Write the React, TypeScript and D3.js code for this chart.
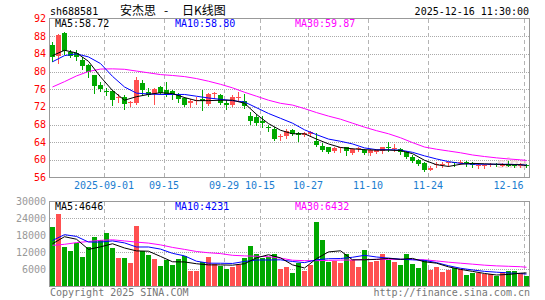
import * as d3 from 'd3';
import { useRef, useEffect } from 'react';

// trading days, 2025-08-19 .. 2025-12-16
const dates = [
  '08-19', '08-20', '08-21', '08-22', '08-25', '08-26', '08-27', '08-28', '08-29',
  '09-01', '09-02', '09-03', '09-04', '09-05', '09-08', '09-09', '09-10', '09-11', '09-12',
  '09-15', '09-16', '09-17', '09-18', '09-19', '09-22', '09-23', '09-24', '09-25', '09-26',
  '09-29', '09-30', '10-09', '10-10', '10-13', '10-14', '10-15', '10-16', '10-17', '10-20',
  '10-21', '10-22', '10-23', '10-24', '10-27', '10-28', '10-29', '10-30', '10-31', '11-03',
  '11-04', '11-05', '11-06', '11-07', '11-10', '11-11', '11-12', '11-13', '11-14', '11-17',
  '11-18', '11-19', '11-20', '11-21', '11-24', '11-25', '11-26', '11-27', '11-28', '12-01',
  '12-02', '12-03', '12-04', '12-05', '12-08', '12-09', '12-10', '12-11', '12-12', '12-15',
  '12-16',
];

const open = [
  85.9, 83.6, 88.75, 84.4, 84.1, 82.5, 81.4, 79.1, 77.0, 75.6,
  75.5, 74.1, 74.2, 72.8, 72.9, 77.4, 75.3, 74.8, 76.4, 75.7,
  75.5, 74.7, 74.0, 72.8, 73.3, 73.8, 72.7, 75.0, 74.6, 72.9,
  72.5, 74.0, 73.4, 69.9, 69.7, 68.9, 67.5, 67.0, 65.3, 65.5,
  66.8, 66.0, 65.6, 65.8, 64.2, 63.2, 62.8, 62.0, 62.6, 62.9,
  61.5, 62.4, 62.3, 61.5, 61.7, 62.0, 63.0, 62.4, 62.5, 61.7,
  60.6, 60.0, 59.2, 57.8, 58.8, 58.9, 59.2, 59.4, 59.4, 59.5,
  59.2, 58.7, 58.7, 58.8, 59.0, 58.7, 59.1, 58.9, 58.6, 58.9,
];
const high = [
  86.6, 88.5, 89.05, 84.9, 84.8, 83.2, 81.7, 79.3, 77.6, 76.2,
  75.9, 74.9, 74.7, 73.4, 78.7, 78.0, 76.2, 76.3, 76.8, 77.6,
  75.7, 75.1, 74.2, 73.8, 74.2, 75.7, 75.1, 75.4, 75.0, 73.6,
  74.6, 75.3, 74.9, 70.8, 70.3, 70.0, 68.0, 67.4, 65.9, 66.9,
  67.0, 66.2, 66.3, 66.5, 66.1, 63.9, 63.0, 62.9, 63.0, 63.0,
  62.7, 63.0, 62.5, 62.5, 62.4, 63.0, 64.0, 63.6, 62.6, 61.9,
  61.0, 60.2, 59.4, 58.5, 59.5, 59.5, 59.6, 59.6, 59.9, 59.7,
  59.4, 59.2, 59.1, 59.3, 59.2, 59.2, 59.8, 59.1, 59.3, 59.1,
];
const low = [
  82.3, 81.9, 84.0, 83.2, 82.5, 80.6, 78.7, 75.2, 75.5, 74.6,
  72.5, 73.1, 71.5, 72.3, 72.7, 74.6, 74.4, 72.7, 74.9, 74.4,
  73.8, 73.1, 72.3, 71.9, 72.7, 71.2, 72.5, 74.0, 72.7, 71.6,
  72.3, 73.4, 71.8, 68.2, 67.8, 67.4, 66.6, 64.5, 64.5, 65.0,
  65.7, 64.2, 65.4, 65.5, 63.2, 61.9, 61.5, 61.7, 61.7, 61.2,
  61.4, 62.1, 61.4, 61.2, 61.5, 61.5, 62.1, 62.1, 61.4, 60.4,
  59.5, 58.9, 57.4, 57.6, 58.3, 58.3, 58.7, 58.5, 59.1, 58.7,
  58.3, 58.2, 58.1, 58.7, 58.6, 58.6, 58.5, 58.4, 58.4, 58.3,
];
const close = [
  83.2, 88.3, 84.75, 83.6, 83.2, 81.2, 79.9, 76.8, 76.1, 75.3,
  73.6, 74.3, 72.7, 73.2, 78.0, 75.7, 74.6, 76.1, 75.2, 74.6,
  74.9, 73.7, 72.5, 73.3, 73.6, 73.4, 74.9, 75.1, 72.8, 72.5,
  74.2, 74.3, 72.1, 68.9, 68.3, 68.3, 67.2, 64.8, 65.5, 66.6,
  65.9, 65.7, 66.0, 66.2, 63.4, 62.3, 61.8, 62.6, 62.9, 62.0,
  62.5, 62.6, 61.6, 62.3, 62.3, 62.9, 62.8, 62.6, 61.7, 60.7,
  59.7, 59.1, 57.6, 58.2, 59.0, 59.1, 59.4, 59.2, 59.6, 59.3,
  58.8, 58.9, 58.9, 59.0, 58.8, 58.9, 58.7, 58.6, 58.8, 58.6,
];
const volume = [
  20770, 25730, 13850, 12460, 15230, 10390, 13850, 17310, 16160, 18700,
  13500, 10040, 10040, 8310, 21460, 12350, 10850, 9690, 7270, 9120,
  7620, 9690, 10620, 5190, 5190, 8660, 10390, 7730, 7270, 6000,
  6580, 7500, 10040, 14190, 11310, 9810, 10160, 11190, 6000, 6580,
  4620, 8310, 5190, 7500, 22850, 16270, 8660, 8890, 8310, 11310,
  9230, 6690, 12810, 8660, 9000, 11310, 9230, 8660, 7620, 11310,
  7960, 6230, 9230, 5650, 6920, 4850, 5650, 6230, 5890, 3810,
  4500, 4620, 4390, 4270, 3460, 4800, 5500, 5200, 4730, 3460,
];

// moving averages at every second day (+ last day)
const ma5 = [
  83.6, 84.8, 84.2, 82.3, 78.8, 75.7, 73.5, 74.3, 74.8, 75.2, 75.0, 74.1, 73.4, 73.4,
  73.5, 73.5, 72.8, 70.3, 68.2, 66.7, 65.9, 65.9, 64.7, 63.6, 62.8, 62.5, 62.3, 62.2,
  62.2, 62.1, 61.4, 59.9, 58.9, 58.5, 59.0, 59.2, 59.1, 59.0, 58.9, 58.9, 58.72,
];
const ma10 = [
  82.2, 83.6, 84.0, 83.3, 81.8, 78.9, 76.5, 75.1, 74.9, 74.8, 74.8, 74.8, 74.4, 74.0,
  73.7, 73.4, 73.1, 71.8, 70.5, 69.4, 68.3, 66.8, 65.7, 64.7, 64.2, 63.6, 62.7, 62.3,
  62.3, 62.2, 61.7, 60.9, 60.2, 59.6, 59.2, 59.0, 59.0, 59.0, 59.0, 58.9, 58.8,
];
const ma30 = [
  76.5, 77.7, 79.0, 80.0, 80.55, 80.6, 80.5, 80.1, 79.7, 79.3, 79.1, 78.85, 78.4, 77.8,
  77.1, 76.3, 75.3, 74.4, 73.5, 72.8, 72.4, 71.6, 70.7, 69.9, 69.2, 68.3, 67.4, 66.6,
  65.9, 65.0, 63.9, 62.9, 62.4, 62.0, 61.6, 61.1, 60.75, 60.45, 60.2, 60.0, 59.87,
];
const volMa5 = [
  15000, 17500, 16600, 13000, 13900, 15000, 13500, 12460, 12350, 10500, 8600, 8540, 7900, 7500,
  7500, 7400, 7900, 10000, 11100, 10000, 7500, 6400, 9700, 12100, 12500, 9300, 9300, 9460,
  9800, 9460, 9800, 8600, 8100, 6800, 5900, 5190, 4450, 3900, 4100, 4550, 4646,
];
const volMa10 = [
  16160, 18230, 17600, 15600, 15600, 16000, 15300, 13850, 13850, 13100, 11600, 10700, 8800, 8100,
  8080, 8000, 8700, 9230, 9230, 9300, 8700, 8300, 9300, 9690, 9750, 10200, 10900, 10300,
  9900, 9500, 9300, 9100, 8300, 7200, 6300, 5700, 5200, 4900, 4650, 4400, 4231,
];
const volMa30 = [
  14430, 14800, 15400, 15800, 16200, 16400, 16000, 15580, 15230, 14600, 13700, 13000, 12250, 11800,
  11500, 10900, 10700, 10550, 10400, 9900, 9150, 9000, 9000, 9100, 9200, 9230, 9400, 9460,
  9460, 9460, 9400, 9300, 8900, 8450, 8100, 7750, 7400, 7150, 7000, 6850, 6650,
];

const priceTicks = [92, 88, 84, 80, 76, 72, 68, 64, 60, 56];
const volTicks = [30000, 24000, 18000, 12000, 6000];
const xTicks = [
  { date: '09-01', label: '2025-09-01' },
  { date: '09-15', label: '09-15' },
  { date: '09-29', label: '09-29' },
  { date: '10-15', label: '10-15' },
  { date: '10-27', label: '10-27' },
  { date: '11-10', label: '11-10' },
  { date: '11-24', label: '11-24' },
  { date: '12-16', label: '12-16' },
];
const priceLegend = ['MA5:58.72', 'MA10:58.80', 'MA30:59.87'];
const volLegend = ['MA5:4646', 'MA10:4231', 'MA30:6432'];

const MONO = "'DejaVu Sans Mono', monospace";
const RED = '#ff5050';
const GREEN = '#00a800';
const MA_COLORS = ['#000000', '#0000ff', '#ff00ff'];

const App = () => {
  const svgRef = useRef<SVGSVGElement | null>(null);

  useEffect(() => {
    const svg = d3.select(svgRef.current);
    svg.selectAll('*').remove();

    const x = d3.scaleBand<string>().domain(dates).range([50, 530]);
    const yP = d3.scaleLinear().domain([56, 92]).range([177.5, 18.5]);
    const yV = d3.scaleLinear().domain([0, 30000]).range([286, 201.5]);
    const maIdx = d3.range(0, 80, 2).concat([79]);
    const cx = (i: number) => x(dates[i])! + 2.5;

    svg.append('rect').attr('width', 545).attr('height', 300).attr('fill', '#fff');

    // horizontal dotted grid
    const hg = svg.append('g').attr('stroke', '#aaa').attr('stroke-dasharray', '1,1');
    priceTicks.slice(1, -1).forEach(t => {
      const y = Math.round(yP(t)) + 0.5;
      hg.append('line').attr('x1', 50).attr('x2', 529).attr('y1', y).attr('y2', y);
    });
    volTicks.slice(1).forEach(t => {
      const y = Math.round(yV(t)) + 0.5;
      hg.append('line').attr('x1', 50).attr('x2', 529).attr('y1', y).attr('y2', y);
    });

    // vertical dashed grid
    const vg = svg.append('g').attr('stroke', '#b4b4b4').attr('stroke-dasharray', '4,3');
    xTicks.forEach(t => {
      const xx = x(t.date)! + 0.5;
      vg.append('line').attr('x1', xx).attr('x2', xx).attr('y1', 19).attr('y2', 177);
      vg.append('line').attr('x1', xx).attr('x2', xx).attr('y1', 202).attr('y2', 286);
    });

    // sina watermark
    svg.append('text').attr('x', 497).attr('y', 168)
      .attr('font-family', 'Liberation Sans, sans-serif').attr('font-size', 15)
      .attr('font-style', 'italic').attr('font-weight', 'bold')
      .attr('fill', '#f0c8c8').attr('opacity', 0.7).text('sina');

    // candles
    const cg = svg.append('g');
    dates.forEach((d, i) => {
      const up = close[i] >= open[i];
      const col = up ? RED : GREEN;
      const x0 = x(d)!;
      cg.append('line')
        .attr('x1', x0 + 2.5).attr('x2', x0 + 2.5)
        .attr('y1', Math.round(yP(high[i]))).attr('y2', Math.round(yP(low[i])) + 1)
        .attr('stroke', col);
      const yt = Math.round(yP(Math.max(open[i], close[i])));
      const yb = Math.round(yP(Math.min(open[i], close[i])));
      cg.append('rect')
        .attr('x', x0).attr('width', 5)
        .attr('y', yt).attr('height', Math.max(1, yb - yt))
        .attr('fill', col);
    });

    // volume bars
    dates.forEach((d, i) => {
      const up = close[i] >= open[i];
      const yt = Math.round(yV(volume[i]));
      svg.append('rect')
        .attr('x', x(d)!).attr('width', 5)
        .attr('y', yt).attr('height', 286 - yt)
        .attr('fill', up ? RED : GREEN);
    });

    // MA lines, MA30 drawn first so MA5 sits on top
    const drawLines = (series: number[][], y: d3.ScaleLinear<number, number>) => {
      const line = d3.line<number>()
        .x((_, j) => cx(maIdx[j]))
        .y(v => y(v));
      [2, 1, 0].forEach(k => {
        svg.append('path').attr('d', line(series[k]))
          .attr('fill', 'none').attr('stroke', MA_COLORS[k]).attr('stroke-width', 1);
      });
    };
    drawLines([ma5, ma10, ma30], yP);
    drawLines([volMa5, volMa10, volMa30], yV);

    // frames
    svg.append('rect').attr('x', 49.5).attr('y', 18.5).attr('width', 480).attr('height', 159)
      .attr('fill', 'none').attr('stroke', '#999');
    svg.append('rect').attr('x', 49.5).attr('y', 201.5).attr('width', 480).attr('height', 85)
      .attr('fill', 'none').attr('stroke', '#999');

    const txt = (s: string, xx: number, yy: number, fill: string, anchor = 'start') =>
      svg.append('text').attr('x', xx).attr('y', yy).attr('fill', fill)
        .attr('text-anchor', anchor).attr('font-family', MONO).attr('font-size', 10).text(s);

    // axis labels
    priceTicks.forEach(t => txt(String(t), 46, yP(t) + 3.5, '#ff0000', 'end'));
    volTicks.forEach(t => txt(String(t), 46, yV(t) + 3.5, '#999999', 'end'));
    xTicks.forEach((t, k) => {
      const xx = x(t.date)!;
      if (k === xTicks.length - 1) txt(t.label, xx - 0.5, 189, '#1a7dd0', 'end');
      else txt(t.label, xx, 189, '#1a7dd0', 'middle');
    });

    // legends
    const legX = [55, 175, 295];
    priceLegend.forEach((s, k) => txt(s, legX[k], 27, MA_COLORS[k]));
    volLegend.forEach((s, k) => txt(s, legX[k], 210, MA_COLORS[k]));

    // header
    txt('sh688581', 50, 15, '#000');
    txt('2025-12-16 11:30:00', 529, 15, '#000', 'end');
    const title = svg.append('text').attr('y', 15).attr('font-size', 12)
      .attr('font-family', "'Noto Sans CJK SC', sans-serif").attr('fill', '#000');
    title.append('tspan').attr('x', 120).text('安杰思');
    title.append('tspan').attr('x', 164).text('-');
    title.append('tspan').attr('x', 182).text('日K线图');

    // footer
    txt('Copyright 2025 SINA.COM', 50, 296, '#777');
    txt('http://finance.sina.com.cn', 530, 296, '#777', 'end');
  }, []);

  return (
    <div style={{ position: 'absolute', left: 0, top: 0 }}>
      <svg ref={svgRef} width={545} height={300} style={{ display: 'block' }} />
    </div>
  );
};

export default App;
